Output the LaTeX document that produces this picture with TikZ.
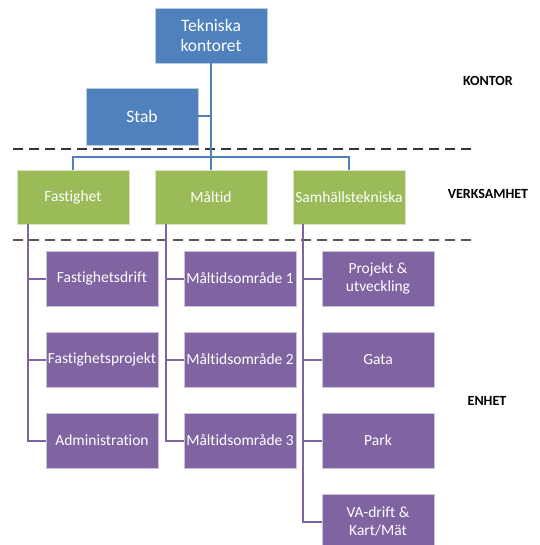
\documentclass[tikz,border=0pt]{standalone}
\usepackage{fontspec}
\setmainfont{Carlito}[Ligatures=NoCommon]
\definecolor{oblue}{HTML}{4F81BD}
\definecolor{ogreen}{HTML}{9BBB59}
\definecolor{opurple}{HTML}{8064A2}
\definecolor{dashdark}{HTML}{333333}
\definecolor{dashgray}{HTML}{5A5A5A}
\tikzset{
  box/.style={minimum width=112pt, minimum height=55pt, inner sep=1pt, align=center,
    text=white, font=\fontsize{15.5}{18}\selectfont, line width=0.8pt},
  bluebox/.style={box, fill=oblue, draw=oblue!40!white, font=\fontsize{17.5}{20}\selectfont},
  greenbox/.style={box, fill=ogreen, draw=ogreen!40!white},
  purplebox/.style={box, fill=opurple, draw=opurple!40!white},
  bline/.style={draw=oblue, line width=2pt},
  pline/.style={draw=opurple, line width=2pt},
  sep/.style={line width=2.4pt, dash pattern=on 10pt off 6pt},
  lvl/.style={font=\fontsize{14}{16}\selectfont\bfseries, text=black}
}
\begin{document}
\begin{tikzpicture}[x=1pt,y=-1pt]
\clip (0,0) rectangle (539,545);
\fill[white] (0,0) rectangle (539,545);

% level separators
\coordinate (l1a) at (13,149);
\coordinate (l1b) at (477,149);
\coordinate (l2a) at (13,240);
\coordinate (l2b) at (477,240);
\draw[sep, draw=dashdark] (l1a) -- (l1b);
\draw[sep, draw=dashgray] (l2a) -- (l2b);

% level labels
\node[lvl] (kontor) at (488,81) {KONTOR};
\node[lvl] (verks) at (488,194) {VERKSAMHET};
\node[lvl] (enhet) at (487,401) {ENHET};

% top
\node[bluebox] (tk) at (211,35.5) {Tekniska\\kontoret};
\node[bluebox, minimum height=57pt] (st) at (142,116.5) {Stab};

% verksamhet
\node[greenbox, minimum height=54pt] (fa) at (73,197) {Fastighet};
\node[greenbox, minimum height=54pt] (ma) at (211,197) {Måltid};
\node[greenbox, minimum height=54pt] (sa) at (349,197) {Samhällstekniska};

% enheter
\node[purplebox] (fd) at (102,278.5) {Fastighetsdrift};
\node[purplebox] (fp) at (102,359.5) {Fastighetsprojekt};
\node[purplebox] (ad) at (102,440.5) {Administration};

\node[purplebox] (m1) at (240,278.5) {Måltidsområde 1};
\node[purplebox] (m2) at (240,359.5) {Måltidsområde 2};
\node[purplebox] (m3) at (240,440.5) {Måltidsområde 3};

\node[purplebox] (pu) at (378,278.5) {Projekt \&\\utveckling};
\node[purplebox] (ga) at (378,359.5) {Gata};
\node[purplebox] (pa) at (378,440.5) {Park};
\node[purplebox] (va) at (378,521.5) {VA-drift \&\\Kart/Mät};

% blue connectors
\coordinate (bus) at (0,157);
\draw[bline] (tk.south) -- (ma.north);
\draw[bline] (st.east) -- (st.east -| tk.south);
\draw[bline] (fa.north) -- (fa.north |- bus) -| (sa.north);

% purple connectors
\coordinate (c1) at (28,0);
\coordinate (c2) at (166,0);
\coordinate (c3) at (303,0);
\draw[pline] (fa.south -| c1) |- (ad.west);
\draw[pline] (fd.west) -- (fd.west -| c1);
\draw[pline] (fp.west) -- (fp.west -| c1);
\draw[pline] (ma.south -| c2) |- (m3.west);
\draw[pline] (m1.west) -- (m1.west -| c2);
\draw[pline] (m2.west) -- (m2.west -| c2);
\draw[pline] (sa.south -| c3) |- (va.west);
\draw[pline] (pu.west) -- (pu.west -| c3);
\draw[pline] (ga.west) -- (ga.west -| c3);
\draw[pline] (pa.west) -- (pa.west -| c3);
\end{tikzpicture}
\end{document}
